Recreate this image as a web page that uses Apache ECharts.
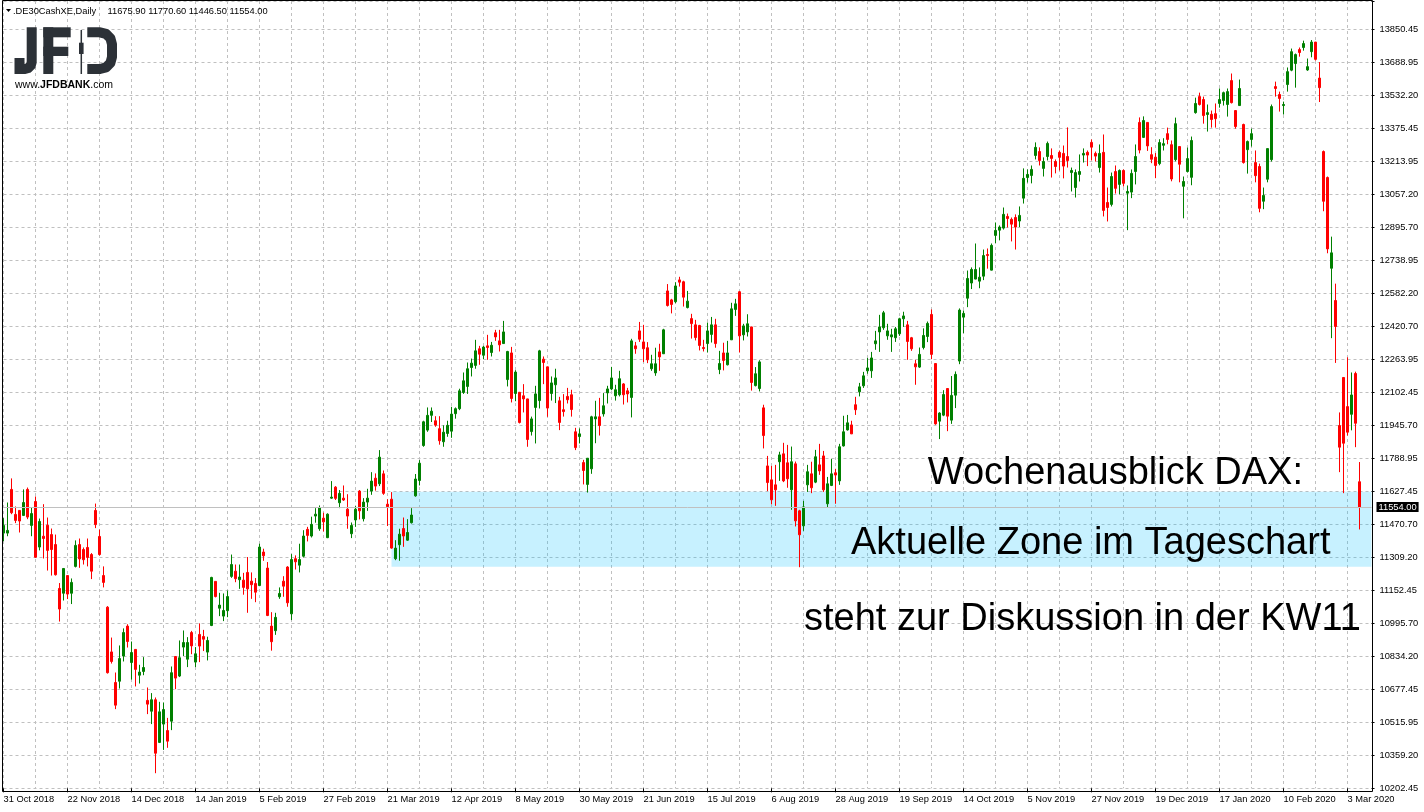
<!DOCTYPE html>
<html><head><meta charset="utf-8">
<script src="https://cdn.jsdelivr.net/npm/echarts@6/dist/echarts.min.js"></script>
<style>html,body{margin:0;padding:0;background:#fff}#chart{width:1424px;height:812px}</style>
</head><body><div id="chart"></div>
<script>
// ---------------- data ----------------
const firstDay = '2018-10-31';
const holidays = ['2018-12-24','2018-12-25','2018-12-26','2018-12-31','2019-01-01','2019-04-19','2019-04-22','2019-10-03','2019-12-24','2019-12-25','2019-12-26','2019-12-31','2020-01-01'];
const padDays = 3; // empty slots right of the last candle

const opens = [11429,11429,11639,11519,11538,11514,11639,11466,11581,11362,
11414,11467,11422,11374,11163,11140,11225,11140,11269,11374,
11350,11360,11326,11538,11413,11225,11073,10858,10711,10717,
10838,10982,10807,10870,10746,10764,10625,10573,10628,10423,
10511,10480,10525,10836,10742,10881,10823,10951,10809,10942,
10932,10857,10985,11197,11068,11030,11056,11221,11246,11205,
11203,11240,11198,11187,11177,11338,11261,10982,10960,11123,
11198,11266,11041,11306,11275,11318,11447,11415,11511,11450,
11501,11407,11597,11650,11575,11597,11544,11426,11492,11631,
11498,11578,11631,11693,11666,11714,11568,11592,11306,11373,
11451,11395,11479,11608,11682,11850,11924,11995,11969,11931,
11868,11908,11919,12003,12027,12105,12134,12225,12235,12315,
12284,12329,12297,12392,12353,12340,12167,12295,12100,12106,
12089,12074,11917,12033,12066,12265,12228,12100,12142,12065,
12022,12086,12094,11916,11893,11768,11663,11738,11978,11988,
12002,12103,12122,12089,12094,12146,12113,12081,12329,12401,
12348,12320,12219,12199,12300,12291,12593,12550,12541,12646,
12637,12513,12460,12430,12427,12321,12340,12384,12430,12215,
12295,12238,12358,12504,12589,12382,12396,12420,12138,12124,
12031,11752,11685,11661,11772,11810,11767,11637,11762,11536,
11464,11661,11714,11674,11757,11800,11570,11658,11719,11680,
11848,11925,11949,12046,12108,12137,12209,12209,12339,12396,
12416,12377,12372,12368,12387,12459,12430,12368,12243,12227,
12321,12374,12480,12244,11967,11996,12124,11972,12092,12256,
12467,12558,12631,12650,12640,12664,12768,12693,12860,12885,
12895,12951,12937,12946,12929,13039,13138,13148,13244,13263,
13182,13239,13244,13215,13259,13254,13239,13162,13090,13153,
13246,13259,13307,13254,13186,13259,13018,13009,13167,13105,
13172,13063,13068,13167,13403,13331,13403,13248,13236,13205,
13293,13349,13296,13224,13287,13096,13167,13139,13450,13527,
13513,13441,13442,13445,13494,13508,13489,13604,13460,13484,
13393,13272,13321,13210,13191,13024,13130,13224,13575,13537,
13484,13585,13654,13686,13753,13763,13655,13743,13789,13616,
13263,13138,12702,12547,11946,12177,12037,12000,12196,11675.9];

const highs = [11501,11576,11692,11557,11540,11639,11648,11554,11605,11499,
11568,11504,11451,11422,11189,11260,11226,11211,11394,11403,
11360,11403,11333,11571,11446,11269,11078,10927,10759,10889,
10971,10991,10908,10871,10796,10833,10687,10660,10639,10618,
10615,10541,10788,10837,10913,10961,10929,10959,10881,10995,
10964,10931,11219,11197,11142,11139,11153,11326,11278,11278,
11238,11314,11240,11213,11378,11354,11290,11049,11046,11168,
11222,11270,11328,11322,11378,11443,11459,11508,11549,11562,
11527,11524,11679,11655,11636,11658,11616,11480,11559,11636,
11597,11642,11722,11716,11828,11730,11592,11626,11395,11450,
11504,11496,11549,11713,11780,11969,12033,12033,11991,11991,
11947,11969,12036,12033,12123,12201,12249,12268,12358,12329,
12329,12382,12348,12406,12406,12449,12305,12324,12212,12107,
12145,12075,11989,12137,12310,12278,12229,12182,12219,12084,
12097,12127,12118,11935,11932,11781,11790,11993,12065,12079,
12102,12137,12228,12142,12209,12150,12127,12363,12348,12444,
12430,12347,12286,12320,12339,12411,12626,12555,12635,12661,
12642,12593,12483,12454,12430,12358,12441,12468,12459,12305,
12344,12353,12536,12555,12593,12435,12481,12421,12227,12260,
12046,11800,11752,11757,11820,11863,11853,11845,11773,11541,
11584,11757,11772,11829,11858,11824,11699,11786,11738,11858,
11993,11997,11969,12084,12151,12204,12271,12300,12401,12478,
12497,12435,12411,12420,12464,12493,12449,12372,12262,12321,
12413,12446,12504,12245,12010,12116,12125,12184,12206,12509,
12499,12691,12706,12821,12706,12792,12797,12821,12922,12908,
12994,12965,12946,12961,12999,13182,13177,13196,13307,13283,
13235,13311,13278,13225,13268,13292,13379,13186,13177,13249,
13278,13268,13321,13263,13297,13345,13090,13162,13196,13177,
13177,13100,13177,13297,13427,13432,13404,13284,13256,13322,
13327,13378,13316,13426,13288,13143,13282,13335,13522,13546,
13527,13489,13460,13494,13566,13551,13566,13638,13461,13609,
13397,13316,13373,13268,13205,13090,13278,13489,13599,13551,
13503,13667,13758,13734,13763,13796,13710,13799,13790,13693,
13268,13143,12854,12628,12009,12177,12274,12201,12205,11770.6];

const lows = [11390,11414,11520,11477,11432,11511,11496,11414,11310,11346,
11307,11249,11225,11225,11004,11105,11112,11088,11264,11262,
11278,11269,11208,11453,11321,11168,10754,10802,10583,10682,
10812,10879,10725,10692,10706,10746,10559,10511,10275,10420,
10387,10397,10482,10679,10737,10838,10785,10847,10785,10809,
10862,10817,10982,11120,11030,11006,11025,11214,11193,11161,
11133,11046,11113,11097,11174,11296,11030,10864,10940,11113,
11123,11075,11011,11254,11240,11312,11389,11408,11479,11440,
11437,11405,11594,11588,11549,11584,11450,11405,11459,11495,
11485,11536,11613,11633,11655,11613,11463,11354,11299,11296,
11363,11392,11475,11604,11658,11844,11916,11963,11940,11854,
11844,11892,11887,11979,12020,12098,12098,12182,12219,12238,
12265,12262,12278,12353,12302,12339,12134,12057,12063,11956,
12009,11844,11898,11860,12028,12145,11988,12066,12054,11924,
11989,12052,11989,11828,11860,11663,11624,11714,11861,11898,
11989,12052,12116,12066,12086,12047,12057,11985,12291,12348,
12251,12246,12209,12185,12209,12290,12518,12485,12534,12614,
12518,12509,12364,12355,12307,12302,12297,12345,12320,12193,
12211,12235,12357,12473,12297,12355,12374,12114,12134,12110,
11836,11631,11567,11560,11680,11674,11647,11541,11461,11265,
11440,11627,11621,11669,11709,11627,11551,11655,11570,11661,
11845,11922,11905,11997,12086,12127,12195,12175,12310,12300,
12406,12358,12300,12348,12377,12420,12262,12305,12142,12223,
12312,12347,12265,11950,11881,11991,11919,11954,12030,12241,
12390,12515,12602,12649,12606,12645,12700,12692,12823,12836,
12888,12898,12831,12792,12900,13013,13114,13110,13225,13196,
13143,13220,13138,13158,13172,13134,13186,13071,13042,13119,
13210,13193,13220,13215,13162,12951,12927,12999,13061,13057,
13095,12885,13039,13105,13254,13329,13266,13207,13135,13197,
13268,13298,13120,13216,13115,12942,13162,13101,13445,13484,
13397,13359,13378,13378,13474,13484,13431,13494,13373,13482,
13205,13157,13287,13115,12971,12986,13115,13215,13527,13455,
13441,13551,13649,13570,13719,13748,13651,13716,13700,13501,
12976,12774,12366,12247,11722,11621,11898,11923,11842,11446.5];

const closes = [11466,11442,11527,11490,11487,11576,11506,11523,11313,11485,
11403,11346,11350,11229,11064,11259,11136,11192,11370,11305,
11301,11312,11246,11470,11326,11192,10758,10812,10602,10826,
10951,10908,10855,10774,10761,10783,10607,10628,10371,10570,
10581,10429,10758,10732,10830,10903,10903,10887,10849,10886,
10919,10913,11216,11124,11083,11057,11124,11278,11210,11218,
11168,11161,11181,11145,11362,11320,11033,10907,11024,11139,
11174,11094,11302,11291,11302,11415,11418,11471,11520,11552,
11483,11520,11602,11596,11620,11588,11511,11466,11544,11536,
11578,11597,11679,11655,11794,11620,11556,11357,11357,11424,
11415,11432,11516,11689,11765,11964,11995,12015,11948,11873,
11914,11947,12001,12027,12113,12161,12219,12246,12305,12289,
12323,12321,12332,12372,12334,12396,12302,12076,12203,11961,
12074,11879,11978,12098,12305,12249,12030,12151,12175,11961,
12013,12070,12023,11840,11906,11730,11789,11988,11988,11946,
12041,12122,12175,12118,12171,12094,12098,12353,12315,12361,
12315,12262,12243,12243,12276,12406,12523,12528,12617,12635,
12563,12544,12436,12369,12331,12316,12401,12430,12340,12244,
12259,12295,12507,12531,12377,12425,12435,12153,12195,12252,
11898,11672,11589,11637,11805,11680,11690,11772,11488,11421,
11555,11724,11647,11796,11728,11637,11666,11714,11708,11844,
11916,11959,11906,12022,12132,12185,12223,12271,12353,12420,
12488,12401,12382,12411,12459,12473,12350,12315,12228,12288,
12379,12437,12288,11954,12006,12095,11991,12091,12192,12501,
12485,12653,12696,12696,12659,12763,12763,12812,12884,12900,
12961,12941,12914,12900,12956,13134,13153,13177,13283,13220,
13215,13302,13230,13191,13235,13193,13220,13172,13162,13167,
13254,13246,13284,13241,13254,12980,12994,13143,13086,13172,
13110,13071,13158,13239,13270,13412,13290,13226,13196,13306,
13301,13321,13131,13397,13202,13119,13229,13316,13494,13489,
13436,13450,13417,13421,13513,13546,13551,13498,13383,13566,
13210,13311,13349,13147,12990,13052,13277,13479,13566,13518,
13489,13647,13743,13729,13739,13782,13671,13789,13706,13570,
13024,12795,12776,12422,11842,11861,11914,12093,11957,11554];

// right price scale labels, bottom to top
const priceTickLabels = ['10202.45','10359.20','10515.95','10677.45','10834.20','10995.70','11152.45','11309.20',
'11470.70','11627.45','11788.95','11945.70','12102.45','12263.95','12420.70','12582.20','12738.95','12895.70',
'13057.20','13213.95','13375.45','13532.20','13688.95','13850.45'];
const priceBase = 10202.45;      // value of the lowest grid line
const priceStep = 3648 / 23;     // price between two grid lines
const gridSteps = 23.858;        // plot height in grid-line steps

const lastPrice = 11554.00;
const zoneTop = 11627.45, zoneBottom = 11267, zoneStartIndex = 97;

const headerName = '.DE30CashXE,Daily';
const headerValues = '11675.90 11770.60 11446.50 11554.00';
const noteLines = ['Wochenausblick DAX:', 'Aktuelle Zone im Tageschart', 'steht zur Diskussion in der KW11'];

// ---------------- build ----------------
function buildDates(n) {
  const out = [];
  const p = firstDay.split('-').map(Number);
  let t = Date.UTC(p[0], p[1] - 1, p[2]);
  while (out.length < n) {
    const d = new Date(t);
    const wd = d.getUTCDay();
    const s = d.toISOString().slice(0, 10);
    if (wd !== 0 && wd !== 6 && holidays.indexOf(s) < 0) out.push(s);
    t += 86400000;
  }
  return out;
}
const categories = buildDates(opens.length + padDays);
const candleData = opens.map((o, i) => [o, closes[i], lows[i], highs[i]]);
const MONTHS = ['Jan','Feb','Mar','Apr','May','Jun','Jul','Aug','Sep','Oct','Nov','Dec'];
function fmtDate(s) { const p = s.split('-'); return (+p[2]) + ' ' + MONTHS[+p[1] - 1] + ' ' + p[0]; }

const FONT = 'Liberation Sans';
const LOGO = '#2c3137';
const GRIDLINE = { color: '#c0c0c0', width: 1, type: [3, 3] };

const chart = echarts.init(document.getElementById('chart'));
chart.setOption({
  animation: false,
  backgroundColor: '#ffffff',
  grid: { left: 3.5, right: 52.5, top: 1, bottom: 23.7, containLabel: false },
  xAxis: {
    type: 'category', data: categories, boundaryGap: false, offset: 3,
    axisLine: { show: false },
    axisTick: { show: true, interval: 15, length: 4, lineStyle: { color: '#000' } },
    axisLabel: { interval: 15, align: 'left', margin: 4, fontFamily: FONT, fontSize: 9.3, color: '#000', formatter: fmtDate },
    splitLine: { show: true, interval: 7, lineStyle: GRIDLINE }
  },
  yAxis: [
    {
      type: 'value', position: 'right', min: 0, max: gridSteps, interval: 1,
      axisLine: { show: false },
      axisTick: { show: true, length: 3, lineStyle: { color: '#000' } },
      axisLabel: {
        margin: 8, fontFamily: FONT, fontSize: 9.3, color: '#000',
        formatter: v => (Math.abs(v - Math.round(v)) < 1e-6 && priceTickLabels[Math.round(v)]) ? priceTickLabels[Math.round(v)] : ''
      },
      splitLine: { show: true, lineStyle: GRIDLINE }
    },
    { type: 'value', show: false, position: 'left', min: priceBase, max: priceBase + gridSteps * priceStep, splitLine: { show: false } }
  ],
  series: [
    {
      type: 'candlestick', xAxisIndex: 0, yAxisIndex: 1, data: candleData, clip: false, z: 2,
      barWidth: 2,
      itemStyle: { color: '#008000', color0: '#ff0000', borderColor: '#008000', borderColor0: '#ff0000', borderWidth: 1 },
      emphasis: { disabled: true },
      markLine: {
        silent: true, symbol: ['none', 'none'], animation: false,
        lineStyle: { color: '#c0c0c0', type: 'solid', width: 1 },
        label: { show: true, position: 'end', distance: 5, formatter: lastPrice.toFixed(2), backgroundColor: '#000', color: '#fff',
                 fontFamily: FONT, fontSize: 9.3, padding: [1, 2, 0, 2] },
        data: [{ yAxis: lastPrice }]
      }
    },
    {
      type: 'line', xAxisIndex: 0, yAxisIndex: 1, data: [], z: 5, silent: true,
      markArea: {
        silent: true,
        itemStyle: { color: 'rgba(0,191,255,0.22)', borderWidth: 0 },
        data: [[{ xAxis: categories[zoneStartIndex], yAxis: zoneTop }, { xAxis: categories[categories.length - 1], yAxis: zoneBottom }]]
      }
    }
  ],
  graphic: [
    { type: 'rect', z: 50, silent: true, shape: { x: 2.5, y: 0.5, width: 1370, height: 791 }, style: { fill: 'none', stroke: '#000', lineWidth: 1 } },
    // header
    { type: 'polygon', z: 60, silent: true, shape: { points: [[6, 9], [11, 9], [8.5, 12]] }, style: { fill: '#000' } },
    { type: 'text', z: 60, silent: true, x: 13, y: 11, style: { text: headerName, font: '9.3px "Liberation Sans"', fill: '#000', verticalAlign: 'middle' } },
    { type: 'text', z: 60, silent: true, x: 107.5, y: 11, style: { text: headerValues, font: '9.3px "Liberation Sans"', fill: '#000', verticalAlign: 'middle' } },
    // logo
    { type: 'polyline', z: 60, silent: true, shape: { points: [[31.7,27.3],[31.7,62],[30.8,65.5],[28.2,68.1],[24.7,69],[19.5,69],[19.5,58]] }, style: { fill: 'none', stroke: LOGO, lineWidth: 10, lineJoin: 'miter' } },
    { type: 'rect', z: 60, silent: true, shape: { x: 43.3, y: 27.3, width: 10, height: 46.7 }, style: { fill: LOGO } },
    { type: 'rect', z: 60, silent: true, shape: { x: 43.3, y: 27.3, width: 27.4, height: 10 }, style: { fill: LOGO } },
    { type: 'rect', z: 60, silent: true, shape: { x: 43.3, y: 46.7, width: 25, height: 9.3 }, style: { fill: LOGO } },
    { type: 'polyline', z: 60, silent: true, shape: { points: [[87.3,32.3],[100,32.3],[106,33.9],[110.4,38.3],[112,44.3],[112,57],[110.4,63],[106,67.4],[100,69],[87.3,69]] }, style: { fill: 'none', stroke: LOGO, lineWidth: 10, lineJoin: 'round' } },
    { type: 'line', z: 60, silent: true, shape: { x1: 81.3, y1: 30, x2: 81.3, y2: 74 }, style: { stroke: LOGO, lineWidth: 1.5 } },
    { type: 'rect', z: 60, silent: true, shape: { x: 79, y: 42.7, width: 4.6, height: 11.3 }, style: { fill: LOGO } },
    { type: 'text', z: 60, silent: true, x: 15, y: 84.7, style: {
        text: '{a|www.}{b|JFDBANK}{a|.com}', verticalAlign: 'middle',
        rich: { a: { fontFamily: FONT, fontSize: 10.5, color: LOGO }, b: { fontFamily: FONT, fontSize: 10.5, fontWeight: 'bold', color: LOGO } } } },
    // notes
    { type: 'text', z: 100, silent: true, x: 1303, y: 474, style: { text: noteLines[0], font: '38px "Liberation Sans"', fill: '#000', align: 'right', verticalAlign: 'middle' } },
    { type: 'text', z: 100, silent: true, x: 851, y: 544, style: { text: noteLines[1], font: '38px "Liberation Sans"', fill: '#000', align: 'left', verticalAlign: 'middle' } },
    { type: 'text', z: 100, silent: true, x: 804, y: 620, style: { text: noteLines[2], font: '38px "Liberation Sans"', fill: '#000', align: 'left', verticalAlign: 'middle' } }
  ]
});
</script></body></html>
